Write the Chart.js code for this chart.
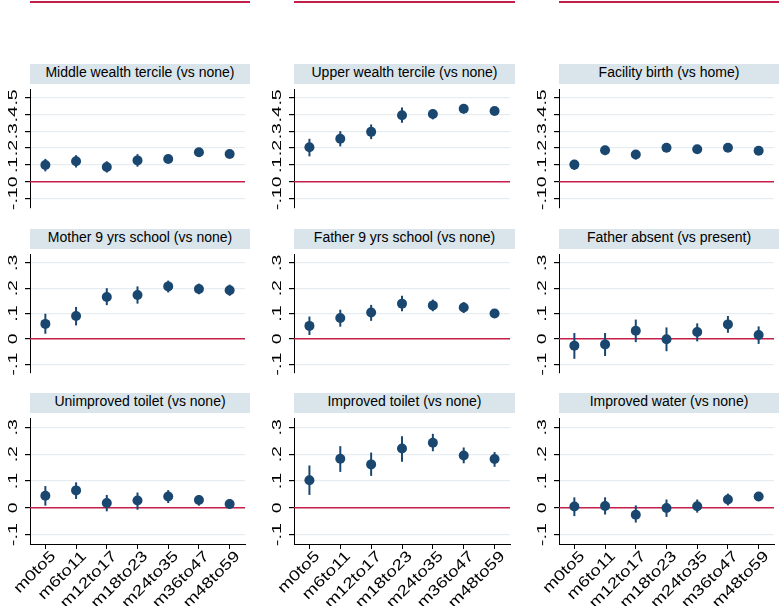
<!DOCTYPE html>
<html>
<head>
<meta charset="utf-8">
<script src="https://cdn.jsdelivr.net/npm/chart.js@4.4.1/dist/chart.umd.min.js"></script>
<style>
  body { margin: 0; background: #fff; }
  #wrap { position: relative; width: 782px; height: 606px; overflow: hidden; background: #fff; }
  .panel-title {
    position: absolute; height: 20px; line-height: 20px; background: #d9e5eb;
    font: 14px "Liberation Sans", Arial, sans-serif; color: #000; text-align: center;
  }
  .cut-line { position: absolute; top: 1px; height: 2px; background: #c41e4a; }
  canvas { position: absolute; }
</style>
</head>
<body>
<div id="wrap"></div>
<script>
// x categories (age in months)
const categories = ['m0to5', 'm6to11', 'm12to17', 'm18to23', 'm24to35', 'm36to47', 'm48to59'];

// y ticks
const yTicksTop = [-0.1, 0, 0.1, 0.2, 0.3, 0.4, 0.5];
const yLabelsTop = ['-.1', '0', '.1', '.2', '.3', '.4', '.5'];
const yTicksLow = [-0.1, 0, 0.1, 0.2, 0.3];
const yLabelsLow = ['-.1', '0', '.1', '.2', '.3'];

// panel titles
const titles = [
  'Middle wealth tercile (vs none)', 'Upper wealth tercile (vs none)', 'Facility birth (vs home)',
  'Mother 9 yrs school (vs none)', 'Father 9 yrs school (vs none)', 'Father absent (vs present)',
  'Unimproved toilet (vs none)', 'Improved toilet (vs none)', 'Improved water (vs none)'
];

// estimates and 95% CI bounds
const midWealth   = [0.100, 0.122, 0.088, 0.127, 0.135, 0.175, 0.165];
const midWealthLo = [0.062, 0.085, 0.055, 0.090, 0.115, 0.158, 0.150];
const midWealthHi = [0.136, 0.158, 0.122, 0.164, 0.155, 0.190, 0.182];

const upWealth    = [0.205, 0.255, 0.296, 0.395, 0.402, 0.433, 0.420];
const upWealthLo  = [0.151, 0.210, 0.253, 0.350, 0.370, 0.405, 0.395];
const upWealthHi  = [0.255, 0.300, 0.340, 0.440, 0.430, 0.458, 0.442];

const facility    = [0.102, 0.187, 0.162, 0.202, 0.193, 0.202, 0.184];
const facilityLo  = [0.070, 0.158, 0.133, 0.176, 0.175, 0.182, 0.162];
const facilityHi  = [0.130, 0.213, 0.187, 0.227, 0.210, 0.220, 0.204];

const mother9     = [0.059, 0.090, 0.165, 0.173, 0.207, 0.197, 0.192];
const mother9Lo   = [0.020, 0.053, 0.133, 0.139, 0.183, 0.176, 0.170];
const mother9Hi   = [0.099, 0.126, 0.200, 0.207, 0.230, 0.218, 0.214];

const father9     = [0.051, 0.082, 0.104, 0.139, 0.132, 0.124, 0.100];
const father9Lo   = [0.015, 0.048, 0.071, 0.109, 0.109, 0.102, 0.085];
const father9Hi   = [0.088, 0.115, 0.134, 0.170, 0.155, 0.145, 0.115];

const fAbsent     = [-0.027, -0.022, 0.032, -0.002, 0.027, 0.057, 0.015];
const fAbsentLo   = [-0.079, -0.068, -0.013, -0.049, -0.010, 0.024, -0.020];
const fAbsentHi   = [0.023, 0.023, 0.076, 0.045, 0.061, 0.090, 0.049];

const unimpToilet   = [0.045, 0.065, 0.018, 0.027, 0.042, 0.029, 0.014];
const unimpToiletLo = [0.008, 0.033, -0.013, -0.007, 0.018, 0.008, -0.004];
const unimpToiletHi = [0.081, 0.095, 0.048, 0.057, 0.066, 0.047, 0.033];

const impToilet   = [0.103, 0.183, 0.162, 0.221, 0.243, 0.195, 0.182];
const impToiletLo = [0.048, 0.134, 0.119, 0.172, 0.211, 0.166, 0.153];
const impToiletHi = [0.158, 0.230, 0.206, 0.267, 0.276, 0.225, 0.208];

const impWater    = [0.005, 0.007, -0.026, -0.001, 0.006, 0.031, 0.042];
const impWaterLo  = [-0.031, -0.025, -0.055, -0.034, -0.018, 0.009, 0.025];
const impWaterHi  = [0.039, 0.039, 0.009, 0.031, 0.031, 0.053, 0.059];

const estimates = [midWealth, upWealth, facility, mother9, father9, fAbsent, unimpToilet, impToilet, impWater];
const lowers = [midWealthLo, upWealthLo, facilityLo, mother9Lo, father9Lo, fAbsentLo, unimpToiletLo, impToiletLo, impWaterLo];
const uppers = [midWealthHi, upWealthHi, facilityHi, mother9Hi, father9Hi, fAbsentHi, unimpToiletHi, impToiletHi, impWaterHi];

// Layout (pixels)
const axisX = [30, 294, 559];
const rightX = [250, 515, 779];
const plotTop = [84, 249, 413];
const plotBottom = [213, 378, 544];
const yRange = [[-0.155, 0.55], [-0.135, 0.335], [-0.135, 0.335]];

const NAVY = '#1a476f';
const RED = '#c41e4a';
const FONT = '"Liberation Sans", Arial, sans-serif';

const wrap = document.getElementById('wrap');

// partial panels from the row above the crop
axisX.forEach((ax, c) => {
  const d = document.createElement('div');
  d.className = 'cut-line';
  d.style.left = ax + 'px';
  d.style.width = (rightX[c] - ax) + 'px';
  wrap.appendChild(d);
});

function drawText(ctx, text, x, y, angle, size, stretch, align, baseline) {
  ctx.save();
  ctx.translate(x, y);
  ctx.rotate(angle);
  ctx.scale(stretch, 1);
  ctx.font = size + 'px ' + FONT;
  ctx.textAlign = align;
  ctx.textBaseline = baseline;
  ctx.fillStyle = '#000';
  ctx.fillText(text, 0, 0);
  ctx.restore();
}

// zero line + error bars behind the dots, labels on top
const panelPlugin = {
  id: 'panelPlugin',
  beforeDatasetsDraw(chart, args, opts) {
    const { ctx, chartArea, scales } = chart;
    const y0 = scales.y.getPixelForValue(0);
    ctx.save();
    ctx.strokeStyle = RED;
    ctx.lineWidth = 1.5;
    ctx.beginPath();
    ctx.moveTo(chartArea.left, y0);
    ctx.lineTo(chartArea.right, y0);
    ctx.stroke();

    ctx.strokeStyle = NAVY;
    ctx.lineWidth = 2;
    opts.lo.forEach((lo, i) => {
      const x = scales.x.getPixelForValue(i);
      ctx.beginPath();
      ctx.moveTo(x, scales.y.getPixelForValue(lo));
      ctx.lineTo(x, scales.y.getPixelForValue(opts.hi[i]));
      ctx.stroke();
    });
    ctx.restore();
  },
  afterDraw(chart, args, opts) {
    const { ctx, scales, chartArea } = chart;
    opts.yTicks.forEach((v, i) => {
      drawText(ctx, opts.yLabels[i], chartArea.left - 13, scales.y.getPixelForValue(v),
        -Math.PI / 2, 13, 1.5, 'center', 'alphabetic');
    });
    if (opts.showX) {
      categories.forEach((c, i) => {
        const x = scales.x.getPixelForValue(i);
        drawText(ctx, c, x + 8, chartArea.bottom + 10, -Math.PI / 4, 15, 1.25, 'right', 'middle');
      });
    }
  }
};

for (let p = 0; p < 9; p++) {
  const row = Math.floor(p / 3), col = p % 3;
  const left = axisX[col] - 30;
  const width = rightX[col] - left;
  const top = plotTop[row];
  const plotH = plotBottom[row] - plotTop[row];
  const height = row === 2 ? 606 - top : plotH;
  const yTicks = row === 0 ? yTicksTop : yTicksLow;
  const yLabels = row === 0 ? yLabelsTop : yLabelsLow;

  const t = document.createElement('div');
  t.className = 'panel-title';
  t.textContent = titles[p];
  t.style.left = axisX[col] + 'px';
  t.style.width = (rightX[col] - axisX[col]) + 'px';
  t.style.top = (top - 20) + 'px';
  wrap.appendChild(t);

  const cv = document.createElement('canvas');
  cv.width = width; cv.height = height;
  cv.style.left = left + 'px';
  cv.style.top = top + 'px';
  cv.style.width = width + 'px';
  cv.style.height = height + 'px';
  wrap.appendChild(cv);

  new Chart(cv.getContext('2d'), {
    type: 'line',
    data: {
      labels: categories,
      datasets: [{
        data: estimates[p],
        showLine: false,
        pointRadius: 5,
        pointBackgroundColor: NAVY,
        pointBorderColor: NAVY,
        pointBorderWidth: 0
      }]
    },
    options: {
      responsive: false,
      animation: false,
      devicePixelRatio: 1,
      layout: { padding: 0 },
      plugins: {
        legend: { display: false },
        tooltip: { enabled: false },
        panelPlugin: { lo: lowers[p], hi: uppers[p], yTicks, yLabels, showX: row === 2 }
      },
      scales: {
        x: {
          type: 'category',
          offset: true,
          display: row === 2,
          border: { color: '#000', width: 1 },
          grid: { drawOnChartArea: false, drawTicks: true, tickLength: 5, tickColor: '#000' },
          ticks: { display: false },
          afterFit: s => { s.height = height - plotH; }
        },
        y: {
          min: yRange[row][0],
          max: yRange[row][1],
          border: { color: '#000', width: 1 },
          grid: {
            color: c => (c.tick && Math.abs(c.tick.value) < 1e-9) ? 'rgba(0,0,0,0)' : '#e5edf1',
            lineWidth: 1.2,
            tickColor: '#000',
            tickLength: 5
          },
          ticks: { display: false },
          afterBuildTicks: s => { s.ticks = yTicks.map(v => ({ value: v })); },
          afterFit: s => { s.width = 30; }
        }
      }
    },
    plugins: [panelPlugin]
  });
}
</script>
</body>
</html>
